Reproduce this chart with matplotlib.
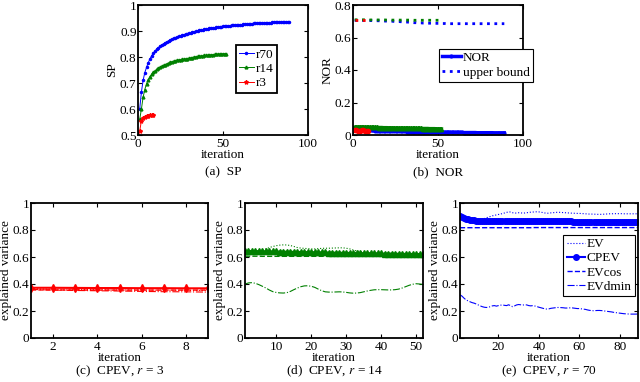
import matplotlib
matplotlib.use("Agg")
import matplotlib.pyplot as plt

plt.rcParams['font.family'] = ['Liberation Serif', 'DejaVu Serif']
plt.rcParams['mathtext.fontset'] = 'stix'

# ---------------- data ----------------
# (a) SP per iteration
sp_r70 = [0.600, 0.665, 0.710, 0.740, 0.760, 0.778, 0.792, 0.805, 0.815, 0.823,
          0.830, 0.836, 0.842, 0.847, 0.851, 0.855, 0.859, 0.862, 0.866, 0.869,
          0.872, 0.874, 0.877, 0.879, 0.881, 0.884, 0.886, 0.888, 0.890, 0.892,
          0.894, 0.896, 0.897, 0.899, 0.900, 0.902, 0.903, 0.904, 0.906, 0.907,
          0.908, 0.910, 0.911, 0.912, 0.913, 0.914, 0.915, 0.916, 0.917, 0.918,
          0.919, 0.920, 0.920, 0.921, 0.922, 0.923, 0.923, 0.924, 0.924, 0.925,
          0.925, 0.926, 0.926, 0.927, 0.927, 0.928, 0.928, 0.929, 0.929, 0.930,
          0.930, 0.930, 0.931, 0.931, 0.931, 0.932, 0.932, 0.932, 0.933, 0.933,
          0.933, 0.933, 0.934, 0.934, 0.934, 0.934, 0.935, 0.935, 0.935]
sp_r14 = [0.560, 0.600, 0.645, 0.675, 0.697, 0.713, 0.725, 0.734, 0.741, 0.747,
          0.752, 0.757, 0.761, 0.765, 0.768, 0.771, 0.774, 0.777, 0.780, 0.782,
          0.784, 0.786, 0.788, 0.789, 0.790, 0.791, 0.792, 0.793, 0.794, 0.795,
          0.797, 0.798, 0.800, 0.801, 0.802, 0.803, 0.804, 0.805, 0.806, 0.806,
          0.807, 0.808, 0.809, 0.809, 0.810, 0.811, 0.811, 0.812, 0.812, 0.813,
          0.813, 0.813]
sp_r3 = [0.515, 0.555, 0.565, 0.570, 0.572, 0.575, 0.576, 0.577, 0.576]

# (b) NOR and its upper bound
nor_r70 = [0.032, 0.031, 0.031, 0.030, 0.030, 0.030, 0.029, 0.029, 0.029, 0.028,
           0.028, 0.028, 0.027, 0.027, 0.027, 0.026, 0.026, 0.026, 0.025, 0.025,
           0.025, 0.024, 0.024, 0.024, 0.023, 0.023, 0.023, 0.022, 0.022, 0.022,
           0.022, 0.021, 0.021, 0.021, 0.021, 0.020, 0.020, 0.020, 0.020, 0.020,
           0.019, 0.019, 0.019, 0.019, 0.019, 0.018, 0.018, 0.018, 0.018, 0.018,
           0.018, 0.017, 0.017, 0.017, 0.017, 0.017, 0.017, 0.016, 0.016, 0.016,
           0.016, 0.016, 0.016, 0.016, 0.015, 0.015, 0.015, 0.015, 0.015, 0.015,
           0.015, 0.015, 0.014, 0.014, 0.014, 0.014, 0.014, 0.014, 0.014, 0.014,
           0.014, 0.014, 0.013, 0.013, 0.013, 0.013, 0.013, 0.013, 0.013]
nor_r14 = [0.048, 0.049, 0.050, 0.050, 0.050, 0.049, 0.049, 0.049, 0.048, 0.048,
           0.048, 0.047, 0.047, 0.047, 0.046, 0.046, 0.046, 0.045, 0.045, 0.045,
           0.044, 0.044, 0.044, 0.044, 0.043, 0.043, 0.043, 0.043, 0.043, 0.043,
           0.043, 0.043, 0.043, 0.042, 0.042, 0.042, 0.042, 0.041, 0.041, 0.041,
           0.040, 0.040, 0.040, 0.040, 0.039, 0.039, 0.039, 0.039, 0.038, 0.038,
           0.038, 0.037]
nor_r3 = [0.030, 0.028, 0.027, 0.027, 0.028, 0.029, 0.027, 0.026, 0.026]
ub_r70 = [0.705, 0.705, 0.705, 0.705, 0.705, 0.705, 0.705, 0.704, 0.704, 0.704,
          0.704, 0.703, 0.703, 0.703, 0.703, 0.702, 0.702, 0.702, 0.701, 0.701,
          0.701, 0.700, 0.700, 0.699, 0.699, 0.698, 0.698, 0.697, 0.697, 0.696,
          0.695, 0.695, 0.694, 0.693, 0.692, 0.691, 0.691, 0.690, 0.690, 0.690,
          0.689, 0.689, 0.689, 0.688, 0.688, 0.688, 0.688, 0.687, 0.687, 0.687,
          0.687, 0.686, 0.686, 0.686, 0.685, 0.685, 0.685, 0.685, 0.685, 0.685,
          0.685, 0.685, 0.685, 0.685, 0.685, 0.685, 0.685, 0.685, 0.685, 0.685,
          0.685, 0.685, 0.685, 0.685, 0.685, 0.685, 0.685, 0.685, 0.685, 0.685,
          0.685, 0.685, 0.685, 0.685, 0.685, 0.685, 0.685, 0.685, 0.685]
ub_r14 = [0.709, 0.709, 0.709, 0.709, 0.709, 0.709, 0.709, 0.708, 0.708, 0.708,
          0.708, 0.708, 0.708, 0.708, 0.708, 0.708, 0.708, 0.708, 0.708, 0.707,
          0.707, 0.707, 0.707, 0.707, 0.707, 0.707, 0.707, 0.707, 0.707, 0.707,
          0.707, 0.707, 0.707, 0.707, 0.707, 0.706, 0.706, 0.706, 0.706, 0.706,
          0.706, 0.706, 0.706, 0.706, 0.706, 0.706, 0.706, 0.706, 0.706, 0.706,
          0.706, 0.706]
ub_r3 = [0.710, 0.710, 0.710, 0.710, 0.710, 0.710, 0.710, 0.710, 0.710]

# (c) explained variance, r = 3
ev_c = [0.365, 0.362, 0.360, 0.358, 0.357, 0.355, 0.354, 0.352, 0.352]
cpev_c = [0.372, 0.372, 0.371, 0.370, 0.370, 0.369, 0.369, 0.368, 0.368]
evcos_c = [0.356, 0.356, 0.355, 0.355, 0.355, 0.355, 0.355, 0.355, 0.355]
evdmin_c = [0.360, 0.355, 0.352, 0.350, 0.348, 0.345, 0.343, 0.342, 0.340]

# (d) explained variance, r = 14
ev_d = [0.630, 0.635, 0.640, 0.640, 0.645, 0.650, 0.660, 0.670, 0.678, 0.684,
        0.688, 0.690, 0.689, 0.685, 0.678, 0.670, 0.666, 0.664, 0.662, 0.660,
        0.660, 0.662, 0.664, 0.665, 0.665, 0.666, 0.667, 0.668, 0.668, 0.665,
        0.660, 0.652, 0.645, 0.640, 0.636, 0.634, 0.632, 0.631, 0.630, 0.630,
        0.629, 0.628, 0.627, 0.627, 0.626, 0.625, 0.624, 0.623, 0.622, 0.621,
        0.620, 0.620]
cpev_d = [0.645, 0.645, 0.644, 0.644, 0.643, 0.643, 0.642, 0.642, 0.641, 0.641,
          0.640, 0.640, 0.639, 0.639, 0.638, 0.638, 0.637, 0.637, 0.636, 0.636,
          0.635, 0.635, 0.634, 0.634, 0.633, 0.633, 0.632, 0.632, 0.631, 0.631,
          0.630, 0.630, 0.629, 0.629, 0.628, 0.628, 0.627, 0.627, 0.626, 0.626,
          0.625, 0.625, 0.625, 0.624, 0.624, 0.624, 0.623, 0.623, 0.623, 0.622,
          0.622, 0.622]
evcos_d = [0.606, 0.606, 0.606, 0.606, 0.606, 0.605, 0.605, 0.605, 0.605, 0.605,
           0.605, 0.605, 0.605, 0.605, 0.605, 0.605, 0.605, 0.605, 0.605, 0.605,
           0.605, 0.605, 0.605, 0.605, 0.605, 0.605, 0.605, 0.605, 0.605, 0.605,
           0.605, 0.605, 0.605, 0.605, 0.605, 0.605, 0.605, 0.605, 0.605, 0.605,
           0.605, 0.605, 0.605, 0.605, 0.605, 0.605, 0.605, 0.605, 0.605, 0.605,
           0.605, 0.605]
evdmin_d = [0.400, 0.408, 0.410, 0.405, 0.395, 0.383, 0.370, 0.355, 0.343, 0.337,
            0.334, 0.333, 0.336, 0.345, 0.358, 0.370, 0.380, 0.386, 0.387, 0.383,
            0.375, 0.362, 0.350, 0.342, 0.340, 0.340, 0.341, 0.342, 0.341, 0.338,
            0.334, 0.332, 0.333, 0.336, 0.342, 0.348, 0.353, 0.357, 0.358, 0.358,
            0.357, 0.356, 0.356, 0.358, 0.362, 0.370, 0.380, 0.390, 0.398, 0.402,
            0.400, 0.397]

# (e) explained variance, r = 70
ev_e = [0.900, 0.885, 0.872, 0.862, 0.857, 0.855, 0.858, 0.862, 0.866, 0.870,
        0.875, 0.880, 0.885, 0.890, 0.895, 0.900, 0.905, 0.908, 0.912, 0.915,
        0.918, 0.922, 0.926, 0.930, 0.935, 0.933, 0.928, 0.925, 0.926, 0.928,
        0.927, 0.925, 0.926, 0.928, 0.930, 0.932, 0.933, 0.934, 0.935, 0.934,
        0.932, 0.929, 0.926, 0.924, 0.925, 0.927, 0.928, 0.930, 0.931, 0.931,
        0.930, 0.929, 0.928, 0.927, 0.926, 0.925, 0.924, 0.924, 0.923, 0.923,
        0.922, 0.921, 0.920, 0.919, 0.918, 0.918, 0.917, 0.917, 0.916, 0.916,
        0.916, 0.917, 0.918, 0.919, 0.920, 0.920, 0.921, 0.921, 0.921, 0.921,
        0.921, 0.920, 0.920, 0.920, 0.920, 0.920, 0.920, 0.920, 0.920]
cpev_e = [0.905, 0.898, 0.891, 0.885, 0.880, 0.877, 0.874, 0.872, 0.870, 0.869,
          0.868, 0.868, 0.868, 0.867, 0.867, 0.867, 0.867, 0.867, 0.866, 0.866,
          0.866, 0.866, 0.866, 0.866, 0.865, 0.865, 0.865, 0.865, 0.865, 0.865,
          0.865, 0.865, 0.864, 0.864, 0.864, 0.864, 0.864, 0.864, 0.864, 0.864,
          0.864, 0.864, 0.864, 0.863, 0.863, 0.863, 0.863, 0.863, 0.863, 0.863,
          0.863, 0.863, 0.863, 0.863, 0.863, 0.863, 0.862, 0.862, 0.862, 0.862,
          0.862, 0.862, 0.862, 0.862, 0.862, 0.862, 0.862, 0.862, 0.862, 0.862,
          0.862, 0.862, 0.862, 0.862, 0.862, 0.862, 0.862, 0.862, 0.862, 0.862,
          0.862, 0.862, 0.862, 0.862, 0.862, 0.862, 0.862, 0.862, 0.862]
evcos_e = [0.817, 0.817, 0.817, 0.817, 0.817, 0.817, 0.817, 0.817, 0.817, 0.817,
           0.817, 0.817, 0.817, 0.817, 0.817, 0.817, 0.817, 0.817, 0.817, 0.817,
           0.817, 0.817, 0.817, 0.817, 0.817, 0.817, 0.817, 0.817, 0.817, 0.817,
           0.817, 0.817, 0.817, 0.817, 0.817, 0.817, 0.818, 0.818, 0.818, 0.818,
           0.818, 0.818, 0.818, 0.818, 0.818, 0.818, 0.818, 0.818, 0.818, 0.818,
           0.818, 0.818, 0.818, 0.818, 0.818, 0.818, 0.818, 0.818, 0.818, 0.818,
           0.818, 0.818, 0.818, 0.818, 0.818, 0.818, 0.818, 0.818, 0.818, 0.818,
           0.818, 0.818, 0.818, 0.818, 0.818, 0.818, 0.818, 0.818, 0.818, 0.818,
           0.818, 0.818, 0.818, 0.818, 0.818, 0.818, 0.818, 0.818, 0.818]
evdmin_e = [0.320, 0.310, 0.295, 0.282, 0.275, 0.268, 0.262, 0.258, 0.252, 0.245,
            0.238, 0.232, 0.228, 0.226, 0.228, 0.232, 0.238, 0.240, 0.236, 0.240,
            0.243, 0.245, 0.242, 0.240, 0.246, 0.240, 0.232, 0.238, 0.245, 0.248,
            0.246, 0.244, 0.246, 0.245, 0.240, 0.238, 0.240, 0.237, 0.233, 0.228,
            0.224, 0.220, 0.216, 0.214, 0.216, 0.220, 0.222, 0.224, 0.226, 0.226,
            0.225, 0.224, 0.222, 0.222, 0.223, 0.224, 0.222, 0.220, 0.218, 0.218,
            0.216, 0.214, 0.212, 0.208, 0.205, 0.203, 0.202, 0.203, 0.204, 0.204,
            0.203, 0.201, 0.199, 0.197, 0.195, 0.193, 0.190, 0.188, 0.186, 0.184,
            0.182, 0.180, 0.179, 0.178, 0.177, 0.177, 0.177, 0.177, 0.178]

BLUE, GREEN, RED = (0, 0, 1), (0, 0.5, 0), (1, 0, 0)
FS = 9.5


def iters(vals):
    return list(range(1, len(vals) + 1))


def style(ax):
    for s in ax.spines.values():
        s.set_linewidth(1.3)
    ax.tick_params(direction='in', top=True, right=True, labelsize=FS,
                   length=3, width=0.8)
    ax.tick_params(axis='x', pad=2.5)
    ax.tick_params(axis='y', pad=1)


def fmt(v):
    return '%g' % v


def box_legend(ax, anchor, lw, **kw):
    leg = ax.legend(loc='upper left', bbox_to_anchor=anchor, fontsize=FS,
                    handletextpad=0.15, borderpad=0.25, borderaxespad=0,
                    fancybox=False, framealpha=1, **kw)
    leg.get_frame().set_edgecolor('black')
    leg.get_frame().set_linewidth(lw)
    return leg


fig = plt.figure(figsize=(6.4, 3.82), dpi=100)
W, H = 640.0, 382.0


def add_axes(l, r, t, b):
    return fig.add_axes([l / W, 1 - b / H, (r - l) / W, (b - t) / H])


# ---------------- (a) SP ----------------
ax = add_axes(138, 308, 5, 135)
ax.plot(iters(sp_r70), sp_r70, '-', color=BLUE, marker='.', ms=3, lw=0.7, label='r70')
ax.plot(iters(sp_r14), sp_r14, '-', color=GREEN, marker='^', ms=2, lw=0.7, label='r14')
ax.plot(iters(sp_r3), sp_r3, '-', color=RED, marker='*', ms=3, lw=0.7, label='r3')
ax.set_xlim(0, 100)
ax.set_ylim(0.5, 1)
ax.set_xticks([0, 50, 100])
ax.set_yticks([0.5, 0.6, 0.7, 0.8, 0.9, 1])
ax.set_yticklabels([fmt(v) for v in ax.get_yticks()])
ax.set_xlabel('iteration', fontsize=FS, labelpad=-1)
ax.set_ylabel('SP', fontsize=FS, labelpad=1)
box_legend(ax, (0.575, 0.69), 1.3, handlelength=1.1, labelspacing=0.15)
style(ax)
fig.text((138 + 308) / 2 / W, 1 - 172 / H, '(a)  SP', ha='center', va='center', fontsize=FS)

# ---------------- (b) NOR ----------------
ax = add_axes(353, 523, 5, 135)
ax.plot(iters(nor_r70), nor_r70, '-', color=BLUE, marker='o', ms=2, lw=2.5, label='NOR')
ax.plot(iters(ub_r70), ub_r70, ':', color=BLUE, lw=2, label='upper bound')
ax.plot(iters(nor_r14), nor_r14, '-', color=GREEN, marker='^', ms=3, lw=2.5)
ax.plot(iters(ub_r14), ub_r14, ':', color=GREEN, lw=2)
ax.plot(iters(nor_r3), nor_r3, '-', color=RED, marker='o', ms=3, lw=2.5)
ax.plot(iters(ub_r3), ub_r3, ':', color=RED, lw=2)
ax.set_xlim(0, 100)
ax.set_ylim(0, 0.8)
ax.set_xticks([0, 50, 100])
ax.set_yticks([0, 0.2, 0.4, 0.6, 0.8])
ax.set_yticklabels([fmt(v) for v in ax.get_yticks()])
ax.set_xlabel('iteration', fontsize=FS, labelpad=-1)
ax.set_ylabel('NOR', fontsize=FS, labelpad=1)
box_legend(ax, (0.505, 0.665), 0.8, handlelength=1.4, labelspacing=0.2)
style(ax)
fig.text((353 + 523) / 2 / W, 1 - 172 / H, '(b)  NOR', ha='center', va='center', fontsize=FS)


# ---------------- (c)-(e) CPEV ----------------
def cpev_panel(l, r, color, marker, ms, ev, cpev, evcos, evdmin, xticks, caption,
               legend=False):
    ax = add_axes(l, r, 203, 338)
    x = iters(ev)
    ax.plot(x, ev, ':', color=color, lw=0.8, label='EV')
    ax.plot(x, cpev, '-', color=color, marker=marker, ms=ms, lw=1.5, label='CPEV')
    ax.plot(x, evcos, '--', color=color, lw=1.0, label='EVcos')
    ax.plot(x, evdmin, '-.', color=color, lw=0.8, label='EVdmin')
    ax.set_xlim(1, len(ev))
    ax.set_ylim(0, 1)
    ax.set_xticks(xticks)
    ax.set_yticks([0, 0.2, 0.4, 0.6, 0.8, 1])
    ax.set_yticklabels([fmt(v) for v in ax.get_yticks()])
    ax.set_xlabel('iteration', fontsize=FS, labelpad=-1)
    ax.set_ylabel('explained variance', fontsize=FS, labelpad=0.5)
    if legend:
        box_legend(ax, (0.58, 0.765), 0.8, handlelength=1.4, labelspacing=0.15)
    style(ax)
    fig.text((l + r) / 2 / W, 1 - 371 / H, caption, ha='center', va='center', fontsize=FS)


cpev_panel(31, 208, RED, 'd', 4, ev_c, cpev_c, evcos_c, evdmin_c, [2, 4, 6, 8],
           r'(c)  CPEV, $r$ = 3')
cpev_panel(245, 423, GREEN, '^', 4, ev_d, cpev_d, evcos_d, evdmin_d, [10, 20, 30, 40, 50],
           r'(d)  CPEV, $r$ = 14')
cpev_panel(460, 638, BLUE, 'o', 4, ev_e, cpev_e, evcos_e, evdmin_e, [20, 40, 60, 80],
           r'(e)  CPEV, $r$ = 70', legend=True)

fig.savefig('out.png', dpi=100)
